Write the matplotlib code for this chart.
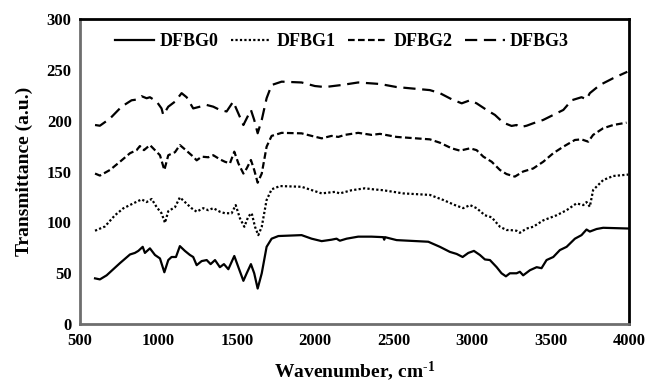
import matplotlib
matplotlib.use('Agg')
import matplotlib.pyplot as plt

# FTIR spectra (wavenumber, transmittance)
w0 = [596, 627, 670, 755, 819, 850, 872, 900, 914, 946, 978, 1010, 1038, 1063, 1084,
      1112, 1137, 1169, 1201, 1222, 1244, 1276, 1308, 1333, 1361, 1392, 1418, 1446,
      1484, 1510, 1542, 1563, 1590, 1611, 1633, 1659, 1690, 1722, 1765, 1913, 1977,
      2041, 2104, 2136, 2157, 2200, 2274, 2359, 2434, 2440, 2445, 2519, 2721, 2795,
      2859, 2902, 2940, 2976, 3012, 3050, 3082, 3114, 3157, 3188, 3216, 3241, 3263,
      3284, 3305, 3326, 3369, 3412, 3443, 3475, 3518, 3560, 3603, 3656, 3698, 3730,
      3751, 3794, 3836, 3996]
t0 = [45, 44, 48, 60, 68.5, 70, 72, 76, 70, 74.5, 68, 64.6, 51, 63, 66,
      66, 76.7, 72, 68, 66, 58, 62, 63, 59, 63, 56, 59, 54,
      67, 56, 42.6, 50, 59, 50, 35, 50, 76, 84, 86.6, 87.5, 84,
      81.6, 83, 84, 82, 84, 86, 86, 85.5, 83, 85.5, 82.6, 81, 76,
      71, 69, 66, 70, 72, 68, 63.6, 63, 56, 50, 47, 50, 50,
      50, 51.5, 48, 53, 56, 55, 63, 66, 72.8, 76, 84, 87.5, 93,
      91, 93.5, 94.7, 94]

w1 = [596, 659, 723, 776, 840, 893, 925, 957, 989, 1020, 1042, 1063, 1106, 1137,
      1169, 1211, 1244, 1286, 1318, 1350, 1392, 1424, 1467, 1493, 1520, 1548, 1574,
      1595, 1616, 1637, 1659, 1690, 1722, 1775, 1913, 2041, 2126, 2157, 2232, 2317,
      2370, 2434, 2561, 2731, 2817, 2891, 2944, 2987, 3029, 3082, 3125, 3178, 3220,
      3241, 3284, 3305, 3348, 3390, 3454, 3539, 3603, 3666, 3709, 3730, 3751, 3772,
      3836, 3900, 3996]
t1 = [91.8, 96, 107, 113.8, 118.7, 122.6, 120, 123, 115, 109, 99.6, 111, 115, 124.6,
      120, 114, 110.5, 114, 112, 114, 110.5, 109, 109, 117, 104, 95.7, 106,
      109, 95.7, 87.5, 95.7, 122, 132.5, 135.7, 135, 128.5, 130, 128.5, 131.6, 133.5,
      132.5, 131.6, 128.5, 127, 122, 117, 114, 117, 114, 107, 105, 95.7, 92.5,
      92.5, 91.8, 89.8, 94, 95.7, 102, 107, 112, 118.7, 117, 120, 115.4, 131.8,
      141.6, 145.6, 147]

w2 = [596, 627, 691, 755, 819, 861, 882, 908, 946, 978, 1010, 1038, 1063, 1106, 1137,
      1175, 1222, 1244, 1276, 1318, 1350, 1392, 1424, 1456, 1484, 1510, 1542, 1563,
      1590, 1611, 1633, 1659, 1690, 1722, 1786, 1913, 1977, 2041, 2104, 2147, 2189,
      2274, 2359, 2413, 2519, 2731, 2795, 2870, 2923, 2987, 3029, 3072, 3125, 3178,
      3220, 3273, 3326, 3390, 3454, 3518, 3582, 3656, 3698, 3741, 3772, 3836, 3900,
      3985]
t2 = [148, 146, 151.5, 159.6, 168, 171, 175, 171, 176, 171, 166, 151.5, 166, 169, 176,
      171, 164.6, 161, 164.6, 164, 166, 162, 159.6, 158, 169.5, 158, 148, 153,
      161.3, 151.5, 139, 148, 174.4, 185, 188, 187.5, 185, 182.6, 185, 184, 186,
      188, 186, 187, 184, 181.6, 178.3, 172.8, 170.5, 172.8, 171, 164.6, 159.6, 151.5,
      147.5, 145, 150, 153, 159.6, 168, 174.4, 181, 181.6, 179.3, 186, 192.5, 195.7,
      198]

w3 = [596, 627, 691, 765, 829, 861, 893, 925, 946, 989, 1020, 1031, 1063, 1106, 1148,
      1180, 1222, 1265, 1308, 1350, 1392, 1435, 1477, 1510, 1542, 1574, 1590, 1611,
      1633, 1659, 1690, 1722, 1786, 1913, 1998, 2062, 2168, 2274, 2359, 2413, 2519,
      2731, 2795, 2870, 2934, 2987, 3029, 3093, 3146, 3199, 3252, 3284, 3305, 3348,
      3390, 3454, 3518, 3582, 3635, 3698, 3730, 3751, 3815, 3900, 3990]
t3 = [195.7, 195, 202, 213.7, 220, 220.7, 224, 222, 223, 218.7, 212, 205.6, 213.7, 218.7, 227,
      223, 212, 213.7, 215.4, 213.7, 210.5, 209, 218.7, 207, 195.7, 205.6, 210.5, 200.7,
      187.6, 200.7, 222, 235, 238.3, 237.5, 234, 233, 235, 237.5, 236.6, 236, 233,
      230, 227, 221, 217, 220, 217, 210.5, 205.6, 198, 194.8, 195.7, 193.5, 195,
      197.4, 200.7, 205.6, 210.5, 220, 223, 221, 227, 235, 241.7, 248]

labels = ['DFBG0', 'DFBG1', 'DFBG2', 'DFBG3']

plt.rcParams['font.family'] = ['Liberation Serif', 'DejaVu Serif']
plt.rcParams['font.weight'] = 'bold'
plt.rcParams['mathtext.fontset'] = 'custom'
plt.rcParams['mathtext.rm'] = 'Liberation Serif:bold'
plt.rcParams['mathtext.it'] = 'Liberation Serif:bold'
plt.rcParams['mathtext.bf'] = 'Liberation Serif:bold'

fig = plt.figure(figsize=(6.45, 3.85), dpi=100)
ax = fig.add_axes([0.124, 0.158, 0.851, 0.793])

lw = 1.6
ax.plot(w0, t0, color='black', lw=lw, linestyle='-', label=labels[0])
ax.plot(w1, t1, color='black', lw=lw, linestyle=(0, (1, 1)), label=labels[1])
ax.plot(w2, t2, color='black', lw=lw, linestyle=(0, (3, 1.5)), label=labels[2])
ax.plot(w3, t3, color='black', lw=lw, linestyle=(0, (5.5, 3)), label=labels[3])

ax.set_xlim(500, 4000)
ax.set_ylim(0, 300)
ax.set_xticks(range(500, 4001, 500))
ax.set_yticks(range(0, 301, 50))
ax.tick_params(length=0, labelsize=12, pad=6)

for s in ['left', 'bottom']:
    ax.spines[s].set_color('#6e6e6e')
    ax.spines[s].set_linewidth(2)
for s in ['top', 'right']:
    ax.spines[s].set_color('black')
    ax.spines[s].set_linewidth(2)

ax.set_xlabel(r'Wavenumber, cm$^{\text{-1}}$', fontsize=14, fontweight='bold', labelpad=8)
ax.set_ylabel('Transmittance (a.u.)', fontsize=14, fontweight='bold', labelpad=10)

ax.legend(loc='center', bbox_to_anchor=(0.477, 0.926), ncol=4, frameon=False,
          handlelength=2.2, handletextpad=0.3, columnspacing=0.7,
          prop={'weight': 'bold', 'size': 13})

fig.savefig('out.png', dpi=100)
